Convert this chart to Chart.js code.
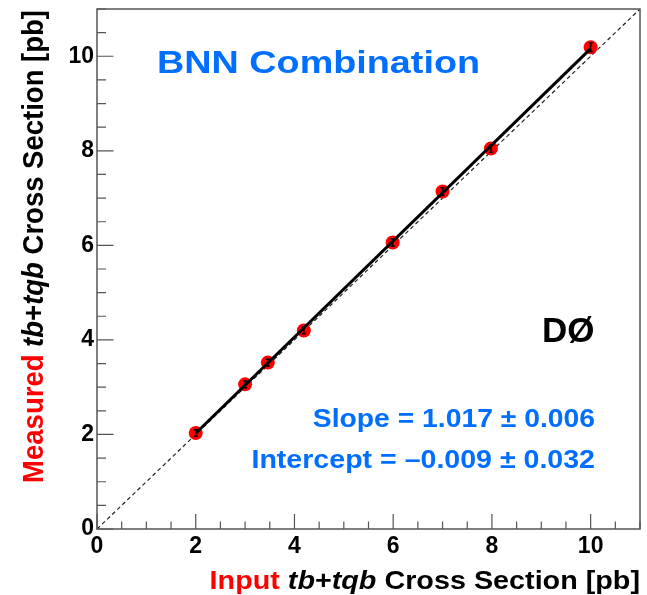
<!DOCTYPE html>
<html>
<head>
<meta charset="utf-8">
<title>BNN Combination linearity</title>
<script src="https://cdn.jsdelivr.net/npm/chart.js@4.4.1/dist/chart.umd.min.js"></script>
<style>
  html, body { margin: 0; padding: 0; background: #fff; }
  #wrap { width: 647px; height: 595px; }
</style>
</head>
<body>
<div id="wrap"><canvas id="linChart" width="647" height="595"></canvas></div>
<script>
// ensemble inputs vs measured cross sections [pb]
const inputXsec    = [2.00, 3.00, 3.46, 4.19, 5.99, 7.00, 7.98, 10.00];
const measuredXsec = [2.03, 3.06, 3.52, 4.20, 6.06, 7.14, 8.05, 10.19];
const measuredErr  = [0.07, 0.07, 0.07, 0.07, 0.08, 0.08, 0.08, 0.09];

// linear fit result
const fitSlope = 1.017;
const fitSlopeErr = 0.006;
const fitIntercept = -0.009;
const fitInterceptErr = 0.032;
const fitRange = [2, 10];

// y = x reference
const diagonalRange = [0, 11];

const axisMax = 11;
const tickValues = [0, 2, 4, 6, 8, 10];

const FONT = '"Liberation Sans", Arial, Helvetica, sans-serif';
const BLUE = '#006eff';
const RED = '#ff0000';
const FRAME = '#555555';

const fitPoints = fitRange.map(x => ({ x: x, y: fitSlope * x + fitIntercept }));
const diagPoints = diagonalRange.map(v => ({ x: v, y: v }));
const measPoints = inputXsec.map((x, i) => ({ x: x, y: measuredXsec[i] }));

function fmt(v) {
  return v.toFixed(3).replace('-', '\u2013');
}

// draws a run of differently styled pieces as one line of text
function drawRich(ctx, parts, x, y, align, sx) {
  ctx.save();
  ctx.textBaseline = 'alphabetic';
  ctx.textAlign = 'left';
  let total = 0;
  parts.forEach(p => { ctx.font = p.font; total += ctx.measureText(p.text).width; });
  ctx.translate(x, y);
  ctx.scale(sx, 1);
  let cx = align === 'right' ? -total : (align === 'center' ? -total / 2 : 0);
  parts.forEach(p => {
    ctx.font = p.font;
    ctx.fillStyle = p.color;
    ctx.fillText(p.text, cx, 0);
    cx += ctx.measureText(p.text).width;
  });
  ctx.restore();
}

function titleParts(first, firstColor, size) {
  return [
    { text: first + ' ', font: 'bold ' + size + 'px ' + FONT, color: firstColor },
    { text: 'tb', font: 'italic bold ' + size + 'px ' + FONT, color: '#000' },
    { text: '+', font: 'bold ' + size + 'px ' + FONT, color: '#000' },
    { text: 'tqb', font: 'italic bold ' + size + 'px ' + FONT, color: '#000' },
    { text: ' Cross Section [pb]', font: 'bold ' + size + 'px ' + FONT, color: '#000' }
  ];
}

const frameAndTicks = {
  id: 'frameAndTicks',
  afterDatasetsDraw(chart) {
    const ctx = chart.ctx;
    const xs = chart.scales.x, ys = chart.scales.y;
    const a = chart.chartArea;

    // error bars
    ctx.save();
    ctx.strokeStyle = '#000';
    ctx.lineWidth = 1.5;
    measPoints.forEach((p, i) => {
      const px = xs.getPixelForValue(p.x);
      const y1 = ys.getPixelForValue(p.y - measuredErr[i]);
      const y2 = ys.getPixelForValue(p.y + measuredErr[i]);
      ctx.beginPath();
      ctx.moveTo(px, y1); ctx.lineTo(px, y2);
      ctx.moveTo(px - 2, y1); ctx.lineTo(px + 2, y1);
      ctx.moveTo(px - 2, y2); ctx.lineTo(px + 2, y2);
      ctx.stroke();
    });
    ctx.restore();

    // frame
    ctx.save();
    ctx.strokeStyle = FRAME;
    ctx.lineWidth = 1.5;
    ctx.strokeRect(a.left, a.top, a.right - a.left, a.bottom - a.top);

    // inward ticks, major every 2, minor every 0.5
    ctx.lineWidth = 1.2;
    ctx.beginPath();
    for (let v = 0; v <= axisMax + 1e-9; v += 0.5) {
      const major = Math.abs(v / 2 - Math.round(v / 2)) < 1e-6;
      const px = xs.getPixelForValue(v);
      ctx.moveTo(px, a.bottom);
      ctx.lineTo(px, a.bottom - (major ? 15 : 7.5));
      const py = ys.getPixelForValue(v);
      ctx.moveTo(a.left, py);
      ctx.lineTo(a.left + (major ? 16.5 : 9), py);
    }
    ctx.stroke();
    ctx.restore();

    // labels
    drawRich(ctx, [{ text: 'BNN Combination', font: 'bold 32px ' + FONT, color: BLUE }], 157, 73, 'left', 1.18);
    drawRich(ctx, [{ text: 'D\u00d8', font: 'bold 35px ' + FONT, color: '#000' }], 542, 342, 'left', 1.0);
    drawRich(ctx, [{ text: 'Slope = ' + fmt(fitSlope) + ' \u00b1 ' + fmt(fitSlopeErr), font: 'bold 25.5px ' + FONT, color: BLUE }], 595, 427, 'right', 1.11);
    drawRich(ctx, [{ text: 'Intercept = ' + fmt(fitIntercept) + ' \u00b1 ' + fmt(fitInterceptErr), font: 'bold 25.5px ' + FONT, color: BLUE }], 595, 468, 'right', 1.12);

    // axis titles
    drawRich(ctx, titleParts('Input', RED, 25), 640, 589, 'right', 1.15);
    ctx.save();
    ctx.translate(43, 10);
    ctx.rotate(-Math.PI / 2);
    ctx.scale(1, 1.1);
    drawRich(ctx, titleParts('Measured', RED, 27.5), 0, 0, 'right', 1.0);
    ctx.restore();
  }
};

// keep the plot frame fixed: no extra room for half-labels at the ends
function noEndPadding(s) {
  s.paddingTop = 0;
  s.paddingBottom = 0;
  s.paddingLeft = 0;
  s.paddingRight = 0;
}

new Chart(document.getElementById('linChart'), {
  type: 'scatter',
  data: {
    datasets: [
      {
        label: 'Fit',
        type: 'line',
        data: fitPoints,
        borderColor: '#000',
        borderWidth: 3,
        pointRadius: 0,
        fill: false
      },
      {
        label: 'Measured',
        data: measPoints,
        backgroundColor: RED,
        borderWidth: 0,
        pointRadius: 7,
        pointHoverRadius: 7
      },
      {
        label: 'y = x',
        type: 'line',
        data: diagPoints,
        borderColor: '#222',
        borderWidth: 1.2,
        borderDash: [4, 3],
        pointRadius: 0,
        fill: false
      }
    ]
  },
  options: {
    responsive: false,
    animation: false,
    devicePixelRatio: 1,
    layout: { padding: { top: 9, right: 4, left: 0, bottom: 0 } },
    plugins: { legend: { display: false }, tooltip: { enabled: false } },
    scales: {
      x: {
        type: 'linear',
        min: 0,
        max: axisMax,
        grid: { display: false, drawTicks: false },
        border: { display: false },
        afterBuildTicks: s => { s.ticks = tickValues.map(v => ({ value: v })); },
        afterFit: s => { s.height = 66; noEndPadding(s); },
        ticks: {
          padding: 4,
          color: '#000',
          font: { family: FONT, size: 23, weight: 'bold' },
          maxRotation: 0
        }
      },
      y: {
        type: 'linear',
        min: 0,
        max: axisMax,
        grid: { display: false, drawTicks: false },
        border: { display: false },
        afterBuildTicks: s => { s.ticks = tickValues.map(v => ({ value: v })); },
        afterFit: s => { s.width = 97; noEndPadding(s); },
        ticks: {
          padding: 3,
          color: '#000',
          font: { family: FONT, size: 23, weight: 'bold' }
        }
      }
    }
  },
  plugins: [frameAndTicks]
});
</script>
</body>
</html>
